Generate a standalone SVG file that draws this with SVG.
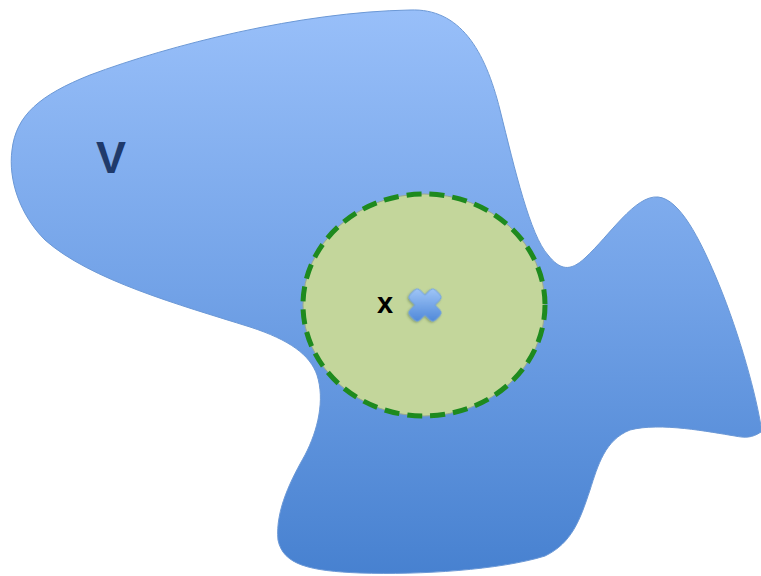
<svg xmlns="http://www.w3.org/2000/svg" width="761" height="576" viewBox="0 0 761 576">
  <style>
    .blob { fill: url(#blobGrad); stroke: #6B98D6; stroke-width: 1; }
    .ballfill { fill: #C3D69B; stroke: #9AA890; stroke-width: 1; }
    .balldash { fill: none; stroke: #1E8A1E; stroke-width: 5; stroke-dasharray: 15 8; }
    .lblV { font-family: "Liberation Sans", Arial, sans-serif; font-weight: bold; font-size: 45px; fill: #1F3A6B; }
    .lblx { font-family: "Liberation Sans", Arial, sans-serif; font-weight: bold; font-size: 29px; fill: #000000; }
    .cross { fill: url(#crossGrad); stroke: #6E9FE0; stroke-width: 0.8; }
  </style>
  <defs>
    <linearGradient id="blobGrad" x1="0" y1="10" x2="0" y2="575" gradientUnits="userSpaceOnUse">
      <stop offset="0" stop-color="#98BFF9"/>
      <stop offset="0.5" stop-color="#72A2E7"/>
      <stop offset="1" stop-color="#4781D0"/>
    </linearGradient>
    <linearGradient id="crossGrad" x1="-12.5" y1="-12.5" x2="12.5" y2="12.5" gradientUnits="userSpaceOnUse">
      <stop offset="0" stop-color="#A3C8F8"/>
      <stop offset="1" stop-color="#4C86D8"/>
    </linearGradient>
    <filter id="shadow" x="-30%" y="-30%" width="160%" height="170%">
      <feDropShadow dx="0" dy="1.5" stdDeviation="1.2" flood-color="#3A5A30" flood-opacity="0.45"/>
    </filter>
  </defs>

  <g id="region-V">
    <path class="blob" d="M 410,10
      C 460,8 485,50 500,110
      C 515,170 530,235 548,255
      C 560,270 570,272 585,258
      C 610,235 635,195 658,197
      C 680,199 700,240 715,275
      C 736,324 754,385 761,426
      L 761,432
      C 752,438 745,438 735,436
      C 710,432 660,422 630,430
      C 605,440 598,465 590,490
      C 580,520 572,543 545,556
      C 500,570 420,575 360,573
      C 310,571 283,565 278,540
      C 275,510 292,478 305,455
      C 318,430 325,400 317,375
      C 310,355 290,340 250,327
      C 180,305 90,280 45,240
      C 20,215 8,180 12,150
      C 16,115 40,95 90,75
      C 170,45 300,12 410,10 Z"/>
    <text class="lblV" x="111" y="173" text-anchor="middle">V</text>
  </g>

  <g id="ball">
    <ellipse class="ballfill" cx="424" cy="305" rx="121" ry="111"/>
    <ellipse class="balldash" cx="424" cy="305" rx="121" ry="111"/>
  </g>

  <g id="point-x">
    <text class="lblx" x="385" y="313" text-anchor="middle">x</text>
    <g filter="url(#shadow)" transform="translate(425 305) rotate(45)">
      <path class="cross" d="M -7,-14 A 4 4 0 0 1 -3,-18 L 3,-18 A 4 4 0 0 1 7,-14 L 7,-7 L 14,-7 A 4 4 0 0 1 18,-3 L 18,3 A 4 4 0 0 1 14,7 L 7,7 L 7,14 A 4 4 0 0 1 3,18 L -3,18 A 4 4 0 0 1 -7,14 L -7,7 L -14,7 A 4 4 0 0 1 -18,3 L -18,-3 A 4 4 0 0 1 -14,-7 L -7,-7 Z"/>
    </g>
  </g>
</svg>
